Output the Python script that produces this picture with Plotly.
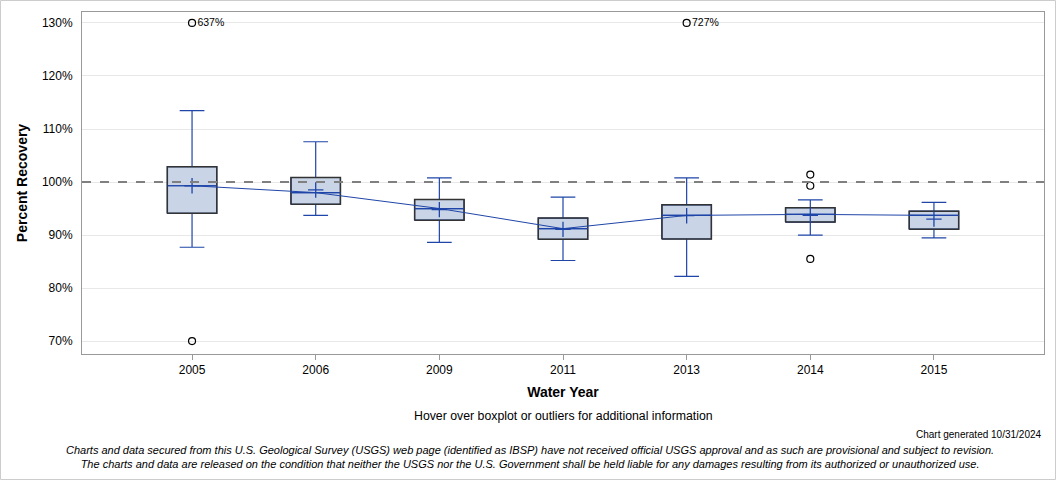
import plotly.graph_objects as go

years = ["2005", "2006", "2009", "2011", "2013", "2014", "2015"]
lower_whisker = [87.7, 93.7, 88.6, 85.2, 82.2, 90.0, 89.45]
q1 = [94.1, 95.8, 92.8, 89.2, 89.25, 92.45, 91.1]
median = [99.3, 98.0, 95.0, 91.2, 93.7, 93.9, 93.7]
q3 = [102.9, 100.85, 96.7, 93.2, 95.7, 95.15, 94.5]
upper_whisker = [113.45, 107.6, 100.8, 97.15, 100.8, 96.65, 96.15]
means = [99.3, 98.5, 94.8, 91.07, 93.65, 93.7, 93.0]

outlier_year_idx = [0, 0, 4, 5, 5, 5]
outlier_values = [130.0, 70.0, 130.0, 101.4, 99.3, 85.5]
outlier_labels = ["637%", "", "727%", "", "", ""]

y_ticks = [70, 80, 90, 100, 110, 120, 130]
y_ticklabels = [f"{v}%" for v in y_ticks]

box_w = 0.4
blue = "#1f45a8"
xs = list(range(len(years)))

fig = go.Figure()

fig.add_trace(go.Box(
    x=xs, q1=q1, median=median, q3=q3,
    lowerfence=lower_whisker, upperfence=upper_whisker,
    width=box_w, whiskerwidth=0.5,
    fillcolor="#c9d5e6", line=dict(color=blue, width=1.2),
    boxpoints=False, showlegend=False, hoverinfo="skip",
))

# dark box outlines
ox, oy = [], []
for i in xs:
    l, r = i - box_w / 2, i + box_w / 2
    ox += [l, r, r, l, l, None]
    oy += [q1[i], q1[i], q3[i], q3[i], q1[i], None]
fig.add_trace(go.Scatter(x=ox, y=oy, mode="lines",
                         line=dict(color="#333333", width=1.5),
                         showlegend=False, hoverinfo="skip"))

# median blue again on top
mx, my = [], []
for i in xs:
    mx += [i - box_w / 2, i + box_w / 2, None]
    my += [median[i], median[i], None]
fig.add_trace(go.Scatter(x=mx, y=my, mode="lines",
                         line=dict(color=blue, width=1.2),
                         showlegend=False, hoverinfo="skip"))

# median connecting line
fig.add_trace(go.Scatter(x=xs, y=median, mode="lines",
                         line=dict(color=blue, width=1),
                         showlegend=False, hoverinfo="skip"))

# means
fig.add_trace(go.Scatter(x=xs, y=means, mode="markers",
                         marker=dict(symbol="cross-thin", size=11,
                                     line=dict(color=blue, width=1.3)),
                         showlegend=False))

# outliers
fig.add_trace(go.Scatter(x=outlier_year_idx, y=outlier_values,
                         mode="markers+text", text=outlier_labels,
                         textposition="middle right",
                         textfont=dict(family="Liberation Sans, Arial", size=10.5, color="#000"),
                         marker=dict(symbol="circle-open", size=7,
                                     line=dict(color="#000", width=1.2), color="#000"),
                         showlegend=False, cliponaxis=False))

fig.add_shape(type="line", xref="paper", x0=0, x1=1, yref="y", y0=100, y1=100,
              line=dict(color="#808080", width=2, dash="dash"), layer="above")

# outer border
L, R, T, B = 82, 12, 12, 126
W, H = 1056, 480
pw, ph = W - L - R, H - T - B
fig.add_shape(type="rect", xref="paper", yref="paper",
              x0=-(L - 0.5) / pw, x1=1 + (R - 0.5) / pw,
              y0=-(B - 0.5) / ph, y1=1 + (T - 0.5) / ph,
              line=dict(color="#cccccc", width=1))

font = "Liberation Sans, Arial, sans-serif"
fig.update_layout(
    width=W, height=H,
    margin=dict(l=L, r=R, t=T, b=B, autoexpand=False),
    plot_bgcolor="white", paper_bgcolor="white",
    font=dict(family=font, size=12, color="#000"),
    xaxis=dict(range=[-0.89, 6.89], tickmode="array", tickvals=xs, ticktext=years,
               automargin=False,
               showgrid=False, zeroline=False, showline=True, mirror=True,
               linecolor="#999999", linewidth=1, ticks="outside", ticklen=5,
               tickcolor="#999999",
               title=dict(text="<b>Water Year</b>", font=dict(size=14), standoff=10)),
    yaxis=dict(range=[67.56, 132.07], tickmode="array", tickvals=y_ticks,
               ticktext=y_ticklabels, automargin=False, ticklabelstandoff=6,
               showgrid=True, gridcolor="#e8e8e8", zeroline=False,
               showline=True, mirror=True, linecolor="#999999", linewidth=1,
               ticks="", title=dict(text="<b>Percent Recovery</b>", font=dict(size=14), standoff=10)),
    annotations=[
        dict(text="Hover over boxplot or outliers for additional information",
             xref="paper", yref="paper", x=(563 - L) / pw, y=(H - B - 416) / ph,
             showarrow=False, font=dict(size=12.3), xanchor="center", yanchor="middle"),
        dict(text="Chart generated 10/31/2024", xref="paper", yref="paper",
             x=1 + (R - 12) / pw, y=(H - B - 434) / ph, showarrow=False,
             font=dict(size=10), xanchor="right", yanchor="middle"),
        dict(text="<i>Charts and data secured from this U.S. Geological Survey (USGS) web page (identified as IBSP) have not received official USGS approval and as such are provisional and subject to revision.</i><br><i>The charts and data are released on the condition that neither the USGS nor the U.S. Government shall be held liable for any damages resulting from its authorized or unauthorized use.</i>",
             xref="paper", yref="paper", x=(530 - L) / pw, y=(H - B - 456.5) / ph,
             showarrow=False, font=dict(size=11), xanchor="center", yanchor="middle",
             align="center"),
    ],
)

fig.write_html("out.html", config={"displayModeBar": False},
               post_script="document.body.style.margin='0';")
